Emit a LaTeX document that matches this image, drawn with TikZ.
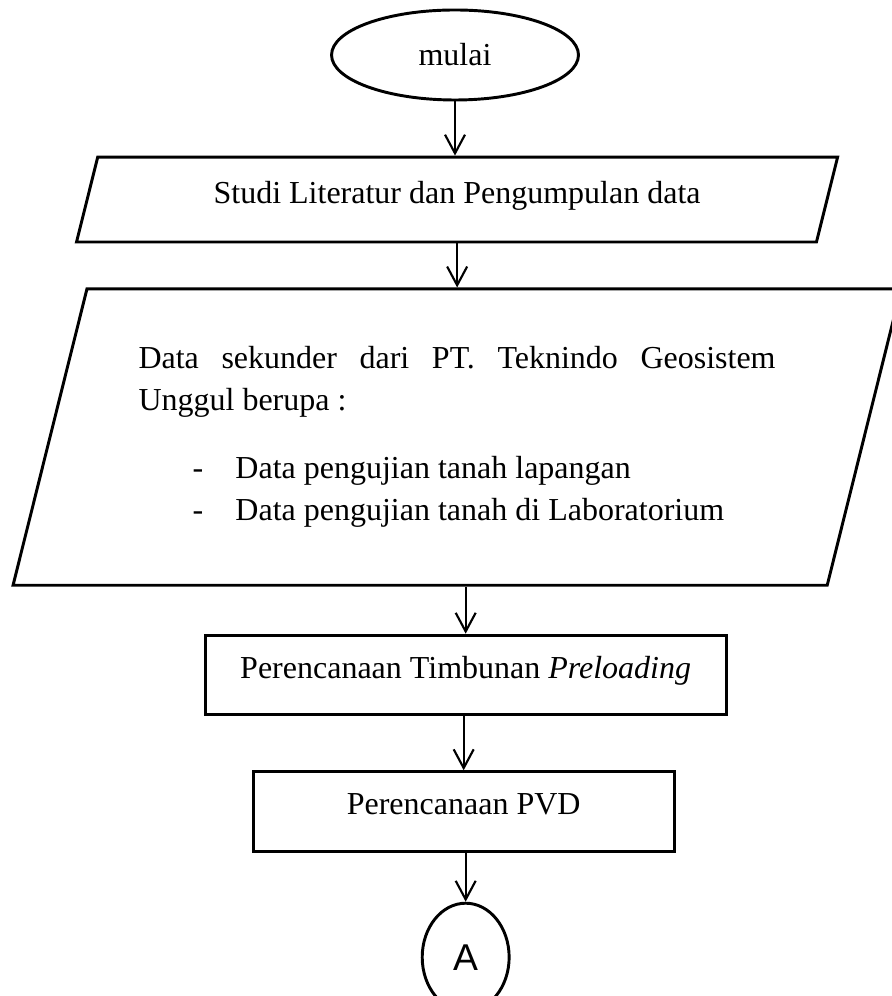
\documentclass[tikz,border=0pt]{standalone}
\usepackage{fontspec}
\setmainfont{Liberation Serif}
\newfontfamily\konfont{Liberation Sans}
\usetikzlibrary{shapes.geometric,positioning,arrows.meta}

\begin{document}
\begin{tikzpicture}[
	x=0.375pt, y=-0.375pt,
	font=\fontsize{12}{15.75}\selectfont,
	line width=1.1pt,
	text centered,
	terminal/.style={
		ellipse, draw,
		minimum width=92.6pt,
		minimum height=33.75pt
	},
	io/.style={
		trapezium, draw,
		trapezium left angle=76,
		trapezium right angle=104,
		trapezium stretches body
	},
	proses/.style={
		rectangle, draw,
		inner ysep=0pt,
		text height=16.2pt,
		text depth=13.6pt
	},
	konektor/.style={
		ellipse, draw,
		minimum width=32.6pt,
		minimum height=40.5pt,
		font=\konfont\fontsize{14}{16}\selectfont
	},
	arr/.style={
		-{Straight Barb[length=7pt,width=7.5pt]},
		line width=0.8pt
	}
	]
	\useasboundingbox (0,0) rectangle (891,996);

	\node [terminal] (Mulai) at (455,55) {mulai};
	\node [io, below=20.3pt of Mulai, xshift=0.8pt,
	minimum width=285.4pt,
	inner ysep=0pt, text height=17.6pt, text depth=14.25pt] (Studi) {Studi Literatur dan Pengumpulan data};

	\node [io, below=16.5pt of Studi,
	minimum width=333pt, inner ysep=21.6pt,
	text width=238.9pt, align=justify] (Data) {\parindent=0pt\frenchspacing\tolerance=9999\hyphenpenalty=10000
	Data sekunder dari PT. Teknindo Geosistem \mbox{Unggul} berupa :\par\vspace{9.75pt}
	\hspace*{20.25pt}\makebox[16.1pt][l]{-}Data pengujian tanah lapangan\par
	\hspace*{20.25pt}\makebox[16.1pt][l]{-}Data pengujian tanah di Laboratorium};

	\node [proses, below=17.6pt of Data, xshift=3.2pt, minimum width=195.4pt] (Timbunan) {Perencanaan Timbunan \textit{Preloading}};
	\node [proses, below=20.3pt of Timbunan, xshift=-0.75pt, minimum width=157.9pt] (PVD) {Perencanaan PVD};
	\node [konektor, below=18.4pt of PVD, xshift=0.75pt] (Konektor) {A};

	\draw [arr] (Mulai.south) -- (Mulai.south |- Studi.north);
	\draw [arr] (Studi.south) -- (Studi.south |- Data.north);
	\draw [arr] (Data.south -| Timbunan.north) -- (Timbunan.north);
	\draw [arr] (Timbunan.south -| PVD.north) -- (PVD.north);
	\draw [arr] (PVD.south -| Konektor.north) -- (Konektor.north);

\end{tikzpicture}
\end{document}
